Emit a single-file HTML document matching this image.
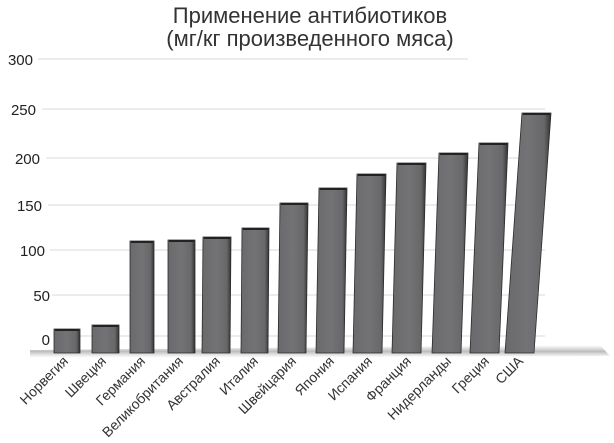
<!DOCTYPE html>
<html><head><meta charset="utf-8"><style>
html,body{margin:0;padding:0;background:#fff;}
svg{display:block;font-family:"Liberation Sans","DejaVu Sans",sans-serif;}
</style></head><body>
<svg width="614" height="443" viewBox="0 0 614 443" xmlns="http://www.w3.org/2000/svg">
<defs>
<linearGradient id="bg" x1="0" x2="1" y1="0" y2="0">
<stop offset="0" stop-color="#6a6a6c"/><stop offset="0.5" stop-color="#737376"/><stop offset="0.85" stop-color="#68686a"/><stop offset="1" stop-color="#333"/>
</linearGradient>
<linearGradient id="sh" x1="0" x2="0" y1="0" y2="1">
<stop offset="0" stop-color="#bbb" stop-opacity="0"/><stop offset="0.5" stop-color="#aaa" stop-opacity="0.8"/><stop offset="1" stop-color="#ccc" stop-opacity="0"/>
</linearGradient>
</defs>
<text x="310" y="23" font-size="22" fill="#333" text-anchor="middle">Применение антибиотиков</text>
<text x="310" y="46" font-size="22" fill="#333" text-anchor="middle">(мг/кг произведенного мяса)</text>
<g stroke="#e6e6e6" stroke-width="1.5">
<line x1="38" y1="59" x2="468" y2="59"/>
<line x1="42" y1="109" x2="545" y2="109"/>
<line x1="46" y1="158" x2="545" y2="158"/>
<line x1="48" y1="205" x2="545" y2="205"/>
<line x1="50" y1="250" x2="545" y2="250"/>
<line x1="52" y1="295" x2="545" y2="295"/>
<line x1="54" y1="336" x2="545" y2="336"/>
</g>
<g font-size="15" fill="#222" text-anchor="end">
<text x="33" y="65">300</text>
<text x="36" y="115">250</text>
<text x="40" y="164">200</text>
<text x="42" y="211">150</text>
<text x="45" y="256">100</text>
<text x="50" y="301">50</text>
<text x="50" y="345">0</text>
</g>
<polygon points="30,350 600,345 610,356 30,358" fill="url(#sh)"/>
<g stroke="#2a2a2a" stroke-width="0.8">
<polygon points="54,329 80,329 80,353 54,353" fill="url(#bg)"/>
<polygon points="92,325 119,325 119,353 92,353" fill="url(#bg)"/>
<polygon points="130,241 154,241 154,353 130,353" fill="url(#bg)"/>
<polygon points="168,240 195,240 195,353 168,353" fill="url(#bg)"/>
<polygon points="203,237 231,237 230,353 202,353" fill="url(#bg)"/>
<polygon points="242,228 269,228 268,353 241,353" fill="url(#bg)"/>
<polygon points="280,203 308,203 306,353 278,353" fill="url(#bg)"/>
<polygon points="319,188 347,188 344,353 316,353" fill="url(#bg)"/>
<polygon points="357,174 386,174 382,353 353,353" fill="url(#bg)"/>
<polygon points="397,163 426,163 421,353 392,353" fill="url(#bg)"/>
<polygon points="439,153 468,153 461,353 432,353" fill="url(#bg)"/>
<polygon points="479,143 508,143 499,353 470,353" fill="url(#bg)"/>
<polygon points="522,113 551,113 534,353 505,353" fill="url(#bg)"/>
</g>
<g stroke="#222" stroke-width="2">
<line x1="55" y1="330" x2="79" y2="330"/><line x1="93" y1="326" x2="118" y2="326"/>
<line x1="131" y1="242" x2="153" y2="242"/><line x1="169" y1="241" x2="194" y2="241"/>
<line x1="204" y1="238" x2="230" y2="238"/><line x1="243" y1="229" x2="268" y2="229"/>
<line x1="281" y1="204" x2="307" y2="204"/><line x1="320" y1="189" x2="346" y2="189"/>
<line x1="358" y1="175" x2="385" y2="175"/><line x1="398" y1="164" x2="425" y2="164"/>
<line x1="440" y1="154" x2="467" y2="154"/><line x1="480" y1="144" x2="507" y2="144"/>
<line x1="523" y1="114" x2="550" y2="114"/>
</g>
<g font-size="14" fill="#333" text-anchor="end">
<text transform="translate(69,362) rotate(-45)">Норвегия</text>
<text transform="translate(107,362) rotate(-45)">Швеция</text>
<text transform="translate(146,362) rotate(-45)">Германия</text>
<text transform="translate(184,362) rotate(-45)">Великобритания</text>
<text transform="translate(221,362) rotate(-45)">Австралия</text>
<text transform="translate(259,362) rotate(-45)">Италия</text>
<text transform="translate(297,362) rotate(-45)">Швейцария</text>
<text transform="translate(335,362) rotate(-45)">Япония</text>
<text transform="translate(373,362) rotate(-45)">Испания</text>
<text transform="translate(412,362) rotate(-45)">Франция</text>
<text transform="translate(452,362) rotate(-45)">Нидерланды</text>
<text transform="translate(490,362) rotate(-45)">Греция</text>
<text transform="translate(524,362) rotate(-45)">США</text>
</g>
</svg>
</body></html>
